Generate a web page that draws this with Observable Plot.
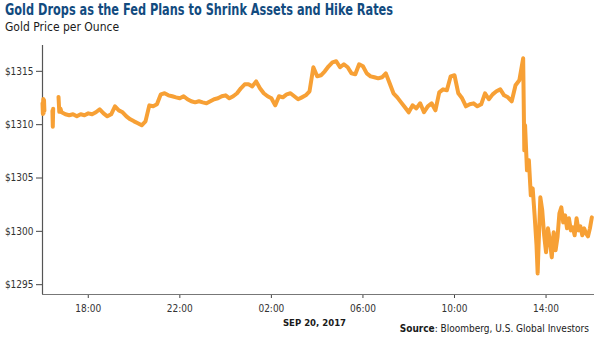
<!DOCTYPE html>
<html>
<head>
<meta charset="utf-8">
<script src="https://cdn.jsdelivr.net/npm/d3@7"></script>
<script src="https://cdn.jsdelivr.net/npm/@observablehq/plot@0.6"></script>
<style>
  html, body { margin: 0; padding: 0; background: #fff; }
  #wrap { position: relative; width: 600px; height: 339px; overflow: hidden; font-family: "Liberation Sans Narrow", "DejaVu Sans Condensed", Roboto, sans-serif; }
  #title { position: absolute; left: 5px; top: 2px; font-size: 15px; line-height: 17px; font-weight: bold; color: #124b7f; white-space: nowrap; transform-origin: left top; }
  #subtitle { position: absolute; left: 5px; top: 20px; font-size: 12px; line-height: 14px; color: #1a1a1a; white-space: nowrap; }
  #chart { position: absolute; left: 0; top: 38px; }
  #source { position: absolute; right: 11px; top: 323px; font-size: 10px; line-height: 12px; color: #1a1a1a; white-space: nowrap; }
  #chart svg { font-family: "Liberation Sans Narrow", "DejaVu Sans Condensed", Roboto, sans-serif; }
</style>
</head>
<body>
<div id="wrap">
  <div id="title">Gold Drops as the Fed Plans to Shrink Assets and Hike Rates</div>
  <div id="subtitle">Gold Price per Ounce</div>
  <div id="chart"></div>
  <div id="source"><b>Source</b>: Bloomberg, U.S. Global Investors</div>
</div>
<script>
// Intraday gold price, Sep 19 16:00 to Sep 20 16:00, 2017 (null = no quote)
const times = [
  "16:00","16:01","16:02","16:03","16:04","16:05","16:10","16:26","16:27","16:28","16:33",
  "16:42","16:44","16:47","16:50","17:00","17:10","17:20","17:30","17:40","17:50",
  "18:00","18:10","18:20","18:30","18:40","18:50","19:00","19:10","19:20","19:30","19:40","19:50",
  "20:00","20:10","20:20","20:30","20:40","20:50","21:00","21:10","21:20","21:30","21:40","21:50",
  "22:00","22:10","22:20","22:30","22:40","22:50","23:00","23:10","23:20","23:30","23:40","23:50",
  "00:00","00:10","00:20","00:30","00:40","00:50","01:00","01:10","01:20","01:30","01:40","01:50",
  "02:00","02:10","02:20","02:30","02:40","02:50","03:00","03:10","03:20","03:30","03:40","03:50",
  "04:00","04:10","04:20","04:30","04:40","04:50","05:00","05:10","05:20","05:30","05:40","05:50",
  "06:00","06:10","06:20","06:30","06:40","06:50","07:00","07:10","07:20","07:30","07:40","07:50",
  "08:00","08:10","08:20","08:30","08:40","08:50","09:00","09:10","09:20","09:30","09:40","09:50",
  "10:00","10:10","10:20","10:30","10:40","10:50","11:00","11:10","11:20","11:30","11:40","11:50",
  "12:00","12:10","12:20","12:30","12:40","12:50","13:00","13:03","13:05","13:10","13:15","13:20",
  "13:25","13:30","13:35","13:38","13:40","13:45","13:50","13:55","14:00","14:05","14:10","14:15",
  "14:20","14:25","14:30","14:35","14:40","14:45","14:50","14:55","15:00","15:05","15:10","15:15",
  "15:20","15:25","15:30","15:35","15:40","15:45","15:50","15:55","16:00"
];
const prices = [
  1312.0,1311.0,1312.4,1311.1,1312.3,1311.3,null,1311.3,1309.8,1311.5,null,
  1312.6,1311.2,1311.5,1311.16,1310.97,1310.88,1310.97,1310.78,1310.97,1310.88,
  1311.06,1310.97,1311.16,1311.44,1311.06,1310.78,1310.97,1311.72,1311.34,1311.16,1310.78,1310.5,
  1310.31,1310.13,1309.94,1310.31,1311.81,1311.72,1311.91,1312.84,1312.94,1312.75,1312.66,1312.56,
  1312.47,1312.66,1312.38,1312.19,1312.09,1312.19,1312.09,1312.0,1312.19,1312.38,1312.47,1312.66,
  1312.75,1312.47,1312.66,1312.94,1313.41,1313.78,1313.78,1313.59,1314.06,1313.41,1312.94,1312.66,
  1312.47,1311.81,1312.66,1312.56,1312.84,1312.94,1312.66,1312.38,1312.56,1312.75,1313.13,1315.38,
  1314.53,1314.63,1315.0,1315.47,1315.84,1315.94,1315.38,1315.66,1315.38,1314.81,1314.72,1315.66,
  1315.47,1314.81,1314.53,1314.44,1314.34,1314.44,1314.81,1313.88,1312.94,1312.56,1312.09,1311.63,
  1311.16,1311.81,1311.53,1312.0,1311.16,1311.72,1312.0,1311.34,1313.03,1313.31,1313.22,1314.53,
  1314.63,1312.94,1312.47,1311.72,1311.91,1312.0,1311.72,1311.91,1312.94,1312.38,1312.84,1313.13,
  1313.31,1312.75,1312.56,1312.19,1313.69,1314.16,1316.22,1307.59,1309.94,1305.72,1306.66,1303.38,
  1304.03,1301.5,1298.69,1296.06,1298.22,1303.19,1301.97,1299.63,1298.03,1300.28,1299.16,1297.56,
  1299.91,1298.22,1299.44,1301.69,1302.25,1300.84,1301.5,1300.28,1301.22,1300.09,1300.38,1299.63,
  1301.22,1300.09,1300.47,1299.63,1300.28,1299.81,1299.53,1300.28,1301.31
];
const xTickLabels = ["18:00","22:00","02:00","06:00","10:00","14:00"];
const yTicks = [1295, 1300, 1305, 1310, 1315];
const startLabel = "16:00";
const endLabel = "16:07";
const dateLabel = "SEP 20, 2017";

// Fit the condensed title to its width in the reference
const titleEl = document.getElementById("title");
const tw = titleEl.getBoundingClientRect().width;
if (tw > 0) titleEl.style.transform = "scaleX(" + (388 / tw) + ")";

// Build timestamps: Sep 19, rolling to Sep 20 after midnight
function stamp(hhmm, day) {
  const [h, m] = hhmm.split(":").map(Number);
  return new Date(2017, 8, day, h, m);
}
let day = 19, prevH = -1;
const data = times.map((t, i) => {
  const h = +t.split(":")[0];
  if (h < prevH) day += 1;
  prevH = h;
  return { date: stamp(t, day), price: prices[i] };
});
const xTicks = xTickLabels.map(t => stamp(t, +t.split(":")[0] >= 16 ? 19 : 20));
const x0 = stamp(startLabel, 19), x1 = stamp(endLabel, 20);
const y0 = 1294.08, y1 = 1317.42;

const chart = Plot.plot({
  width: 600,
  height: 301,
  marginTop: 7,
  marginBottom: 45,
  marginLeft: 42,
  marginRight: 6,
  style: { fontSize: "10px", color: "#333", background: "transparent" },
  x: { type: "time", domain: [x0, x1] },
  y: { domain: [y0, y1] },
  marks: [
    Plot.axisY({ ticks: yTicks, tickFormat: d => "$" + d, tickSize: 6, tickPadding: 3, label: null, stroke: "#444" }),
    Plot.axisX({ ticks: xTicks, tickFormat: d3.timeFormat("%H:%M"), tickSize: 4, tickPadding: 6, label: null, stroke: "#444" }),
    Plot.ruleX([x0], { stroke: "#555", strokeWidth: 1.2 }),
    Plot.ruleY([y0], { stroke: "#777", strokeWidth: 1.2 }),
    Plot.line(data, { x: "date", y: "price", stroke: "#f7a035", strokeWidth: 4, strokeLinejoin: "round", strokeLinecap: "round" }),
    Plot.text([dateLabel], { frameAnchor: "bottom", dy: 31, dx: -4, fontWeight: "bold", fontSize: 9.5, fill: "#1a1a1a" })
  ]
});
document.getElementById("chart").appendChild(chart);
</script>
</body>
</html>
